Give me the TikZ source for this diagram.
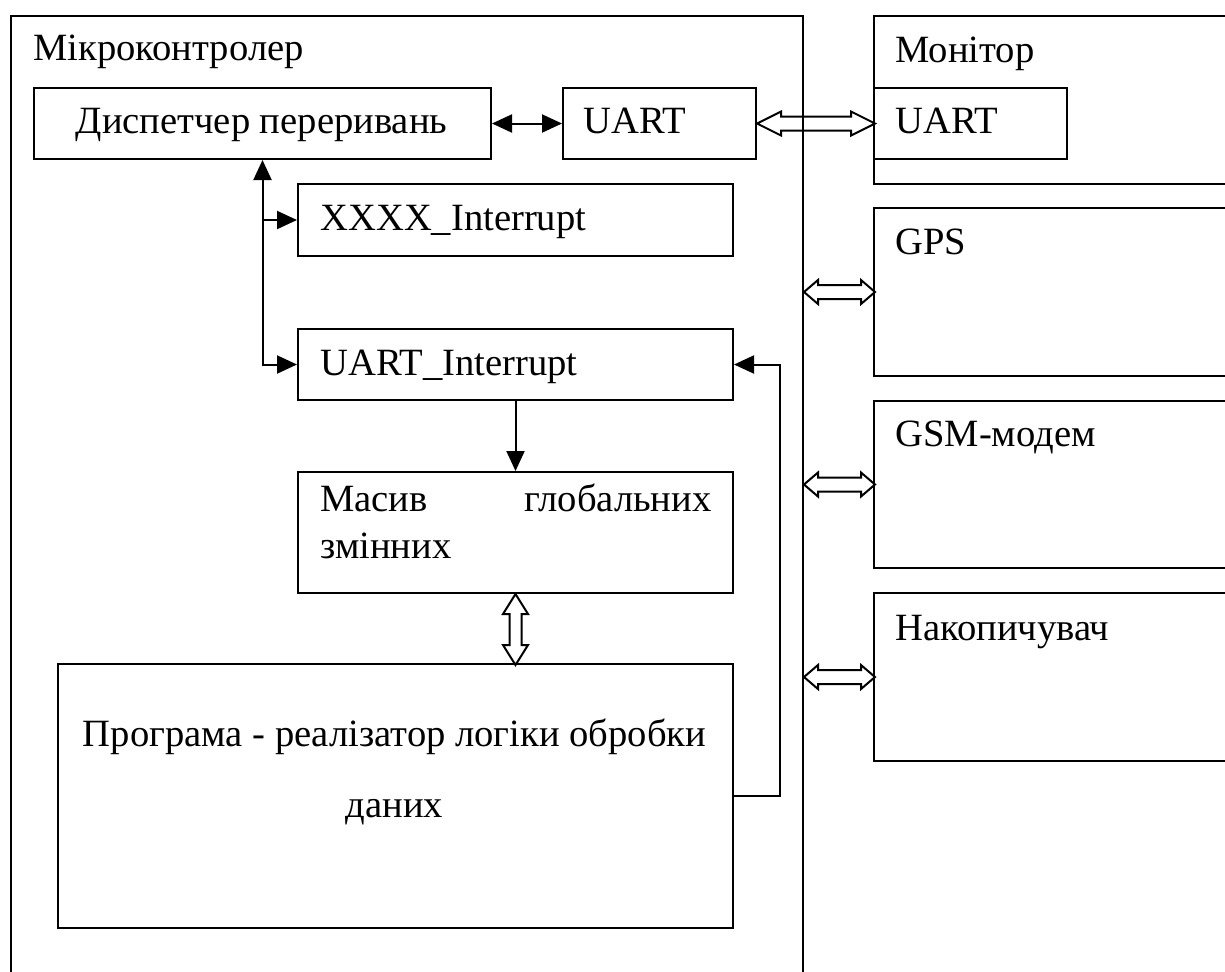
\documentclass[tikz,border=0pt]{standalone}
\usepackage{fontspec}
\setmainfont{Liberation Serif}
\usetikzlibrary{arrows.meta,calc}
\begin{document}
\begin{tikzpicture}[x=0.5pt,y=-0.5pt,
  box/.style={draw, line width=1pt, inner sep=0pt, anchor=north west},
  txt/.style={inner sep=0pt, font=\fontsize{19.3}{22}\selectfont},
  conn/.style={line width=1pt},
  tip/.style={-{Triangle[length=10pt,width=9pt]}},
  tips/.style={{Triangle[length=10pt,width=9pt]}-{Triangle[length=10pt,width=9pt]}},
  hollow/.style={line width=1pt, line join=miter}
]
\useasboundingbox (0,0) rectangle (1225,971);
\clip (0,0) rectangle (1225,971);
% containers
\node[box, minimum width=396pt, minimum height=500pt] (mc) at (10,15) {};
\node[box, minimum width=200pt, minimum height=84pt] (mon) at (873,15) {};
\node[box, minimum width=96.5pt, minimum height=35.5pt] (uart2) at (873,87) {};
\node[box, minimum width=200pt, minimum height=84pt] (gps) at (873,207) {};
\node[box, minimum width=200pt, minimum height=83.5pt] (gsm) at (873,400) {};
\node[box, minimum width=200pt, minimum height=84pt] (nak) at (873,592) {};
% inner boxes
\node[box, minimum width=228.5pt, minimum height=35.5pt] (disp) at (33,87) {};
\node[box, minimum width=96.5pt, minimum height=35.5pt] (uart1) at (562,87) {};
\node[box, minimum width=217.5pt, minimum height=36pt] (xxxx) at (297,183) {};
\node[box, minimum width=217.5pt, minimum height=35.5pt] (uint) at (297,328) {};
\node[box, minimum width=217.5pt, minimum height=60.5pt] (mas) at (297,471) {};
\node[box, minimum width=337.5pt, minimum height=132pt] (prog) at (57,663) {};
% texts
\node[txt, anchor=base west] (tmc) at (33,60) {Мікроконтролер};
\node[txt, anchor=base west] (tmon) at (895,62) {Монітор};
\node[txt, anchor=base] (tdisp) at (261.5,133) {Диспетчер переривань};
\node[txt, anchor=base west] (tu1) at (583,133) {UART};
\node[txt, anchor=base west] (tu2) at (895,133) {UART};
\node[txt, anchor=base west] (tgps) at (895,254) {GPS};
\node[txt, anchor=base west] (tgsm) at (895,446) {GSM-модем};
\node[txt, anchor=base west] (tnak) at (895,640) {Накопичувач};
\node[txt, anchor=base west] (txx) at (320,230) {XXXX\_Interrupt};
\node[txt, anchor=base west] (tui) at (320,375) {UART\_Interrupt};
\node[txt, anchor=base west] (tm1) at (320,511) {Масив};
\node[txt, anchor=base east] (tm2) at (712,511) {глобальних};
\node[txt, anchor=base west] (tm3) at (320,558) {змінних};
\node[txt, anchor=base] (tp1) at (394.5,746) {Програма - реалізатор логіки обробки};
\node[txt, anchor=base] (tp2) at (394.5,817) {даних};
% connectors
\draw[conn, tips] (disp.east) -- (uart1.west);
\draw[conn, tips] (disp.south) -- (disp.south |- uint.west) -- (uint.west);
\draw[conn, tip] (disp.south |- xxxx.west) -- (xxxx.west);
\draw[conn, tip] (uint.south) -- (mas.north);
\draw[conn, tip] (prog.east) -- ++(46,0) |- (uint.east);
% hollow double arrows
\draw[hollow] (uart1.east) -- ++(24,-12) -- ++(0,5) -- ++(70,0) -- ++(0,-5) -- ++(24,12) -- ++(-24,12) -- ++(0,-5) -- ++(-70,0) -- ++(0,5) -- cycle;
\draw[hollow] (mc.east |- gps.west) -- ++(14,-12) -- ++(0,5) -- ++(43,0) -- ++(0,-5) -- ++(14,12) -- ++(-14,12) -- ++(0,-5) -- ++(-43,0) -- ++(0,5) -- cycle;
\draw[hollow] (mc.east |- gsm.west) -- ++(14,-12) -- ++(0,5) -- ++(43,0) -- ++(0,-5) -- ++(14,12) -- ++(-14,12) -- ++(0,-5) -- ++(-43,0) -- ++(0,5) -- cycle;
\draw[hollow] (mc.east |- nak.west) -- ++(14,-12) -- ++(0,5) -- ++(43,0) -- ++(0,-5) -- ++(14,12) -- ++(-14,12) -- ++(0,-5) -- ++(-43,0) -- ++(0,5) -- cycle;
\draw[hollow] (mas.south) -- ++(12.5,20) -- ++(-6.5,0) -- ++(0,31) -- ++(6.5,0) -- ++(-12.5,20) -- ++(-12.5,-20) -- ++(6.5,0) -- ++(0,-31) -- ++(-6.5,0) -- cycle;
\end{tikzpicture}
\end{document}
